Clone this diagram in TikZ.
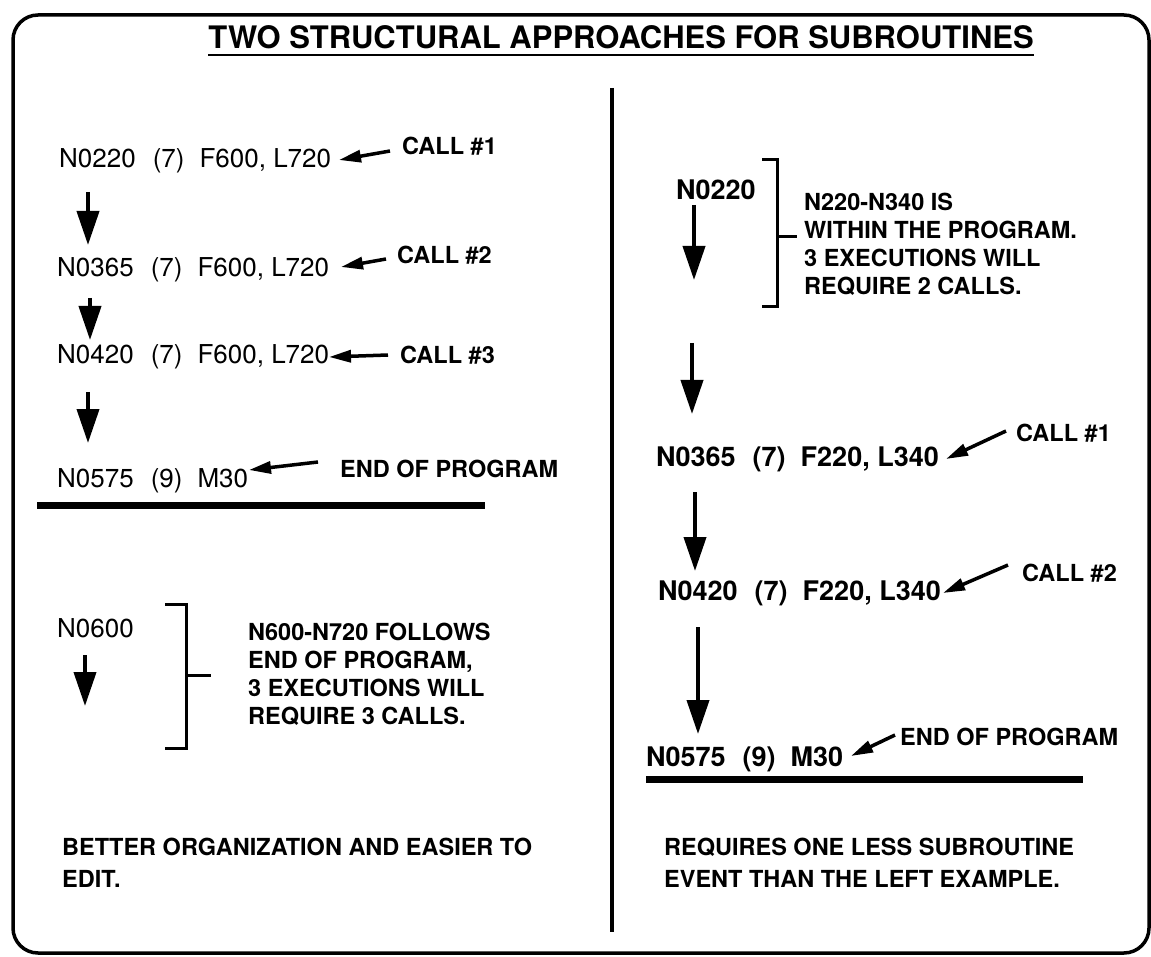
\documentclass[tikz,border=0pt]{standalone}
\usepackage{fontspec}
\setmainfont{TeX Gyre Heros}
\usetikzlibrary{arrows.meta}
\begin{document}
\begin{tikzpicture}[x=1pt,y=-1pt,
  row/.style={anchor=base west,inner sep=0pt,font=\fontsize{26pt}{30pt}\selectfont},
  rowb/.style={anchor=base west,inner sep=0pt,font=\fontsize{27pt}{31pt}\selectfont\bfseries},
  note/.style={anchor=base west,inner sep=0pt,font=\fontsize{23.5pt}{28pt}\selectfont\bfseries},
  foot/.style={anchor=base west,inner sep=0pt,font=\fontsize{23.5pt}{32pt}\selectfont\bfseries},
  down/.style={line width=4pt,-{Triangle[length=34pt,width=22pt]}},
  callarrow/.style={line width=3.5pt,-{Triangle[length=22pt,width=12pt]}},
  bar/.style={line width=7pt},
  brk/.style={line width=3pt}]
\useasboundingbox (0,0) rectangle (1151,957);
\draw[line width=3.5pt,rounded corners=25pt] (13,15) rectangle (1149,953);
% title
\node[anchor=base,inner sep=0pt,font=\fontsize{31pt}{35pt}\selectfont\bfseries] (title) at (621,49) {TWO STRUCTURAL APPROACHES FOR SUBROUTINES};
\draw[line width=2.5pt] ([yshift=-6pt]title.base west) -- ([yshift=-6pt]title.base east);
% divider
\coordinate (dt) at (612,88);
\coordinate (db) at (612,932);
\draw[line width=4pt] (dt) -- (db);

% ---------- left column ----------
\node[row] (l1) at (59,168) {N0220\hspace{17pt}(7)\hspace{15pt}F600, L720};
\node[row] (l2) at (57,277) {N0365\hspace{17pt}(7)\hspace{15pt}F600, L720};
\node[row] (l3) at (57,364) {N0420\hspace{17pt}(7)\hspace{15pt}F600, L720};
\node[row] (l4) at (57,487) {N0575\hspace{17pt}(9)\hspace{15pt}M30};
\node[note] (c1) at (402,155) {CALL \#1};
\node[note] (c2) at (397,264) {CALL \#2};
\node[note] (c3) at (400,363) {CALL \#3};
\node[note] (e1) at (340,477) {END OF PROGRAM};
\coordinate (c1t) at (390,151); \coordinate (c1h) at (339,160);
\coordinate (c2t) at (386,259); \coordinate (c2h) at (341,267);
\coordinate (c3t) at (388,355); \coordinate (c3h) at (329,357);
\coordinate (e1t) at (318,462); \coordinate (e1h) at (249,470);
\draw[callarrow] (c1t) -- (c1h);
\draw[callarrow] (c2t) -- (c2h);
\draw[callarrow] (c3t) -- (c3h);
\draw[callarrow] (e1t) -- (e1h);
\coordinate (a1s) at (88,192); \coordinate (a1e) at (88,245);
\coordinate (a2s) at (90,298); \coordinate (a2e) at (90,340);
\coordinate (a3s) at (88,392); \coordinate (a3e) at (88,443);
\draw[down] (a1s) -- (a1e);
\draw[down] (a2s) -- (a2e);
\draw[down] (a3s) -- (a3e);
\coordinate (lb1) at (37,505); \coordinate (lb2) at (485,505);
\draw[bar] (lb1) -- (lb2);

\node[row] (l5) at (57,637) {N0600};
\coordinate (a4s) at (85,655); \coordinate (a4e) at (85,706);
\draw[down] (a4s) -- (a4e);
\coordinate (k1) at (165,604); \coordinate (k2) at (186,604);
\coordinate (k3) at (186,748); \coordinate (k4) at (165,748);
\coordinate (k5) at (186,675); \coordinate (k6) at (211,675);
\draw[brk] (k1) -- (k2) -- (k3) -- (k4);
\draw[brk] (k5) -- (k6);
\node[note] (n1) at (248,640) {\begin{tabular}[t]{@{}l@{}}N600-N720 FOLLOWS\\END OF PROGRAM,\\3 EXECUTIONS WILL\\REQUIRE 3 CALLS.\end{tabular}};
\node[foot] (b1) at (62,855) {\begin{tabular}[t]{@{}l@{}}BETTER ORGANIZATION AND EASIER TO\\EDIT.\end{tabular}};

% ---------- right column ----------
\node[rowb] (r1) at (676,200) {N0220};
\coordinate (ra1s) at (694,205); \coordinate (ra1e) at (694,280);
\draw[down] (ra1s) -- (ra1e);
\coordinate (q1) at (762,160); \coordinate (q2) at (777,160);
\coordinate (q3) at (777,307); \coordinate (q4) at (762,307);
\coordinate (q5) at (777,237); \coordinate (q6) at (797,237);
\draw[brk] (q1) -- (q2) -- (q3) -- (q4);
\draw[brk] (q5) -- (q6);
\node[note] (n2) at (804,211) {\begin{tabular}[t]{@{}l@{}}N220-N340 IS\\WITHIN THE PROGRAM.\\3 EXECUTIONS WILL\\REQUIRE 2 CALLS.\end{tabular}};
\coordinate (ra2s) at (692,343); \coordinate (ra2e) at (692,414);
\draw[down] (ra2s) -- (ra2e);
\node[rowb] (r2) at (656,466) {N0365\hspace{17pt}(7)\hspace{15pt}F220, L340};
\node[note] (rc1) at (1016,441) {CALL \#1};
\coordinate (rc1t) at (1006,431); \coordinate (rc1h) at (946,459);
\draw[callarrow] (rc1t) -- (rc1h);
\coordinate (ra3s) at (695,492); \coordinate (ra3e) at (695,571);
\draw[down] (ra3s) -- (ra3e);
\node[rowb] (r3) at (658,600) {N0420\hspace{17pt}(7)\hspace{15pt}F220, L340};
\node[note] (rc2) at (1022,581) {CALL \#2};
\coordinate (rc2t) at (1008,565); \coordinate (rc2h) at (943,593);
\draw[callarrow] (rc2t) -- (rc2h);
\coordinate (ra4s) at (698,627); \coordinate (ra4e) at (698,734);
\draw[down] (ra4s) -- (ra4e);
\node[rowb] (r4) at (646,766) {N0575\hspace{17pt}(9)\hspace{15pt}M30};
\node[note] (re) at (900,745) {END OF PROGRAM};
\coordinate (ret) at (895,735); \coordinate (reh) at (851,756);
\draw[callarrow] (ret) -- (reh);
\coordinate (rb1) at (646,779); \coordinate (rb2) at (1083,779);
\draw[bar] (rb1) -- (rb2);
\node[foot] (b2) at (664,855) {\begin{tabular}[t]{@{}l@{}}REQUIRES ONE LESS SUBROUTINE\\EVENT THAN THE LEFT EXAMPLE.\end{tabular}};
\end{tikzpicture}
\end{document}
